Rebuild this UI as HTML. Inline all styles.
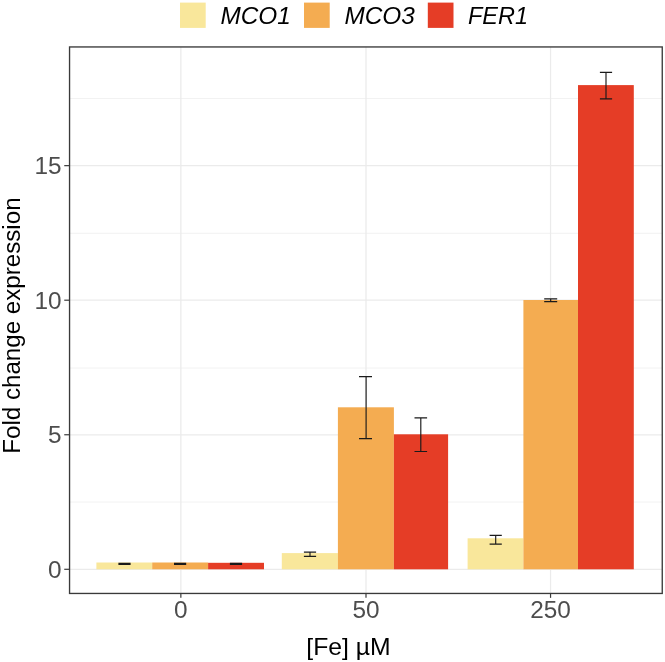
<!DOCTYPE html>
<html lang="en">
<head>
<meta charset="utf-8">
<title>Fold change expression</title>
<style>
html,body{margin:0;padding:0;background:#fff;}
body{width:665px;height:662px;overflow:hidden;font-family:"Liberation Sans",Arial,sans-serif;}
svg{display:block;will-change:transform;}
text{font-family:"Liberation Sans",Arial,sans-serif;}
</style>
</head>
<body>
<svg width="665" height="662" viewBox="0 0 665 662">
<rect x="0" y="0" width="665" height="662" fill="#ffffff"/>
<g stroke="#EBEBEB" fill="none">
<line x1="69.55" x2="662.25" y1="502.00" y2="502.00" stroke-width="0.65"/>
<line x1="69.55" x2="662.25" y1="368.00" y2="368.00" stroke-width="0.65"/>
<line x1="69.55" x2="662.25" y1="233.30" y2="233.30" stroke-width="0.65"/>
<line x1="69.55" x2="662.25" y1="98.50" y2="98.50" stroke-width="0.65"/>
<line x1="69.55" x2="662.25" y1="569.30" y2="569.30" stroke-width="1.25"/>
<line x1="69.55" x2="662.25" y1="434.75" y2="434.75" stroke-width="1.25"/>
<line x1="69.55" x2="662.25" y1="300.20" y2="300.20" stroke-width="1.25"/>
<line x1="69.55" x2="662.25" y1="165.65" y2="165.65" stroke-width="1.25"/>
<line x1="180.85" x2="180.85" y1="46.95" y2="593.45" stroke-width="1.25"/>
<line x1="366.00" x2="366.00" y1="46.95" y2="593.45" stroke-width="1.25"/>
<line x1="550.55" x2="550.55" y1="46.95" y2="593.45" stroke-width="1.25"/>
</g>
<g>
<rect x="96.40" y="562.50" width="55.80" height="6.80" fill="#F9E79B"/>
<rect x="152.20" y="562.50" width="55.90" height="6.80" fill="#F4AC51"/>
<rect x="208.10" y="562.80" width="55.90" height="6.50" fill="#E53D26"/>
<rect x="281.80" y="553.10" width="56.10" height="16.20" fill="#F9E79B"/>
<rect x="337.90" y="407.30" width="56.00" height="162.00" fill="#F4AC51"/>
<rect x="393.90" y="434.30" width="54.20" height="135.00" fill="#E53D26"/>
<rect x="467.60" y="538.30" width="55.80" height="31.00" fill="#F9E79B"/>
<rect x="523.40" y="300.00" width="54.60" height="269.30" fill="#F4AC51"/>
<rect x="578.00" y="85.10" width="55.80" height="484.20" fill="#E53D26"/>
</g>
<g stroke="#1a1a1a" stroke-width="1.15" fill="none">
<path d="M118.40 563.30H130.60M118.40 564.40H130.60M124.50 563.30V564.40"/>
<path d="M174.00 563.20H186.20M174.00 564.30H186.20M180.10 563.20V564.30"/>
<path d="M229.90 563.30H242.10M229.90 564.40H242.10M236.00 563.30V564.40"/>
<path d="M303.90 552.10H316.10M303.90 556.40H316.10M310.00 552.10V556.40"/>
<path d="M359.00 376.60H372.00M359.00 438.60H372.00M366.10 376.60V438.60"/>
<path d="M414.50 417.90H427.10M414.50 451.50H427.10M420.80 417.90V451.50"/>
<path d="M489.60 535.30H501.80M489.60 544.10H501.80M495.70 535.30V544.10"/>
<path d="M544.20 298.90H557.20M544.20 301.60H557.20M550.70 298.90V301.60"/>
<path d="M599.90 72.40H612.10M599.90 98.90H612.10M606.00 72.40V98.90"/>
</g>
<rect x="69.55" y="46.95" width="592.70" height="546.50" fill="none" stroke="#3a3a3a" stroke-width="1.35"/>
<g stroke="#3a3a3a" stroke-width="1.2">
<line x1="64.25" x2="69.55" y1="569.30" y2="569.30"/>
<line x1="64.25" x2="69.55" y1="434.75" y2="434.75"/>
<line x1="64.25" x2="69.55" y1="300.20" y2="300.20"/>
<line x1="64.25" x2="69.55" y1="165.65" y2="165.65"/>
<line x1="180.85" x2="180.85" y1="593.45" y2="597.85"/>
<line x1="366.00" x2="366.00" y1="593.45" y2="597.85"/>
<line x1="550.55" x2="550.55" y1="593.45" y2="597.85"/>
</g>
<g fill="#4D4D4D" font-size="24.00">
<text transform="translate(61.50 577.70) scale(1.0150 1)" text-anchor="end">0</text>
<text transform="translate(61.50 443.15) scale(1.0150 1)" text-anchor="end">5</text>
<text transform="translate(61.50 308.60) scale(1.0150 1)" text-anchor="end">10</text>
<text transform="translate(61.50 174.05) scale(1.0150 1)" text-anchor="end">15</text>
<text transform="translate(180.85 618.20) scale(1.0150 1)" text-anchor="middle">0</text>
<text transform="translate(366.00 618.20) scale(1.0150 1)" text-anchor="middle">50</text>
<text transform="translate(550.55 618.20) scale(1.0150 1)" text-anchor="middle">250</text>
</g>
<text transform="translate(348.50 655.00) scale(1.0400 1)" text-anchor="middle" font-size="23.80" fill="#000">[Fe] µM</text>
<text transform="translate(19.90 325.60) rotate(-90) scale(1.0024 1.0050)" text-anchor="middle" font-size="24.10" fill="#000">Fold change expression</text>
<g>
<rect x="180.00" y="2.6" width="25.7" height="25.3" fill="#F9E79B"/>
<rect x="304.00" y="2.6" width="25.7" height="25.3" fill="#F4AC51"/>
<rect x="427.80" y="2.6" width="25.7" height="25.3" fill="#E53D26"/>
</g>
<g font-size="23.20" font-style="italic" fill="#000">
<text transform="translate(220.40 23.90) scale(1.0500 1)">MCO1</text>
<text transform="translate(344.40 23.90) scale(1.0500 1)">MCO3</text>
<text transform="translate(468.00 23.90) scale(1.0130 1)">FER1</text>
</g>
</svg>
</body>
</html>
